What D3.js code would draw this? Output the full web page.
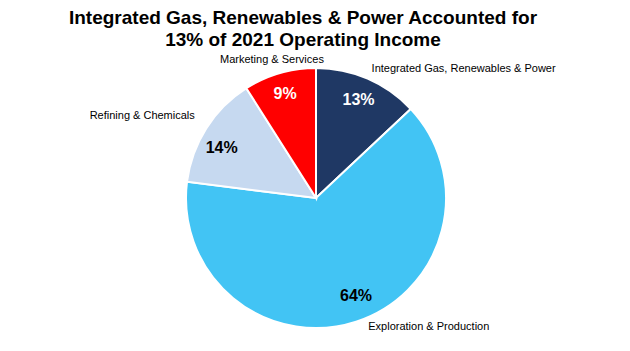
<!DOCTYPE html>
<html>
<head>
<meta charset="utf-8">
<script src="https://cdn.jsdelivr.net/npm/d3@7"></script>
<style>
  body { margin: 0; background: #fff; }
  text { font-family: "Liberation Sans", Arial, sans-serif; }
</style>
</head>
<body>
<svg id="chart" width="630" height="351"></svg>
<script>
const titleLines = ["Integrated Gas, Renewables & Power Accounted for", "13% of 2021 Operating Income"];
const segments = ["Integrated Gas, Renewables & Power", "Exploration & Production", "Refining & Chemicals", "Marketing & Services"];
const shares = [13, 64, 14, 9];
const colors = ["#1f3864", "#42c4f4", "#c6d9f0", "#ff0000"];
const pctColors = ["#fff", "#000", "#000", "#fff"];

const svg = d3.select("#chart");
const cx = 316, cy = 198, R = 130;

svg.selectAll(".title")
    .data(titleLines)
    .join("text")
    .attr("class", "title")
    .attr("x", 303)
    .attr("y", (d, i) => 24 + i * 22)
    .attr("text-anchor", "middle")
    .style("font-size", "19px")
    .style("font-weight", "bold")
    .text(d => d);

const data = segments.map((name, i) => ({ name, value: shares[i], i }));
const pie = d3.pie().sort(null).value(d => d.value);
const arcs = pie(data);

const arc = d3.arc().innerRadius(0).outerRadius(R);
const pctArc = d3.arc().innerRadius(107).outerRadius(107);
const outerArc = d3.arc().innerRadius(140).outerRadius(140);

const g = svg.append("g").attr("transform", `translate(${cx},${cy})`);

g.selectAll("path")
    .data(arcs)
    .join("path")
    .attr("d", arc)
    .attr("fill", d => colors[d.data.i])
    .attr("stroke", "#fff")
    .attr("stroke-width", 2);

// percent labels, with small nudges to match the original
const pctNudge = [[0, 0], [7, -4], [-4, 7], [-1, -2]];
g.selectAll(".pct")
    .data(arcs)
    .join("text")
    .attr("class", "pct")
    .attr("transform", d => {
        const [x, y] = pctArc.centroid(d);
        const [nx, ny] = pctNudge[d.data.i];
        return `translate(${x + nx},${y + ny})`;
    })
    .attr("text-anchor", "middle")
    .attr("dy", "0.35em")
    .attr("fill", d => pctColors[d.data.i])
    .style("font-size", "16px")
    .style("font-weight", "bold")
    .text(d => d.data.value + "%");

// small nudges so names sit where the original places them
const nudge = [[0, -1], [9, -5], [-3, -8], [-5, -4]];
g.selectAll(".name")
    .data(arcs)
    .join("text")
    .attr("class", "name")
    .attr("transform", d => {
        const [x, y] = outerArc.centroid(d);
        const [nx, ny] = nudge[d.data.i];
        return `translate(${x + nx},${y + ny})`;
    })
    .attr("text-anchor", d => {
        const mid = (d.startAngle + d.endAngle) / 2;
        if (mid > 5.8) return "middle";
        return mid < Math.PI ? "start" : "end";
    })
    .attr("dy", "0.35em")
    .style("font-size", "11px")
    .text(d => d.data.name);
</script>
</body>
</html>
